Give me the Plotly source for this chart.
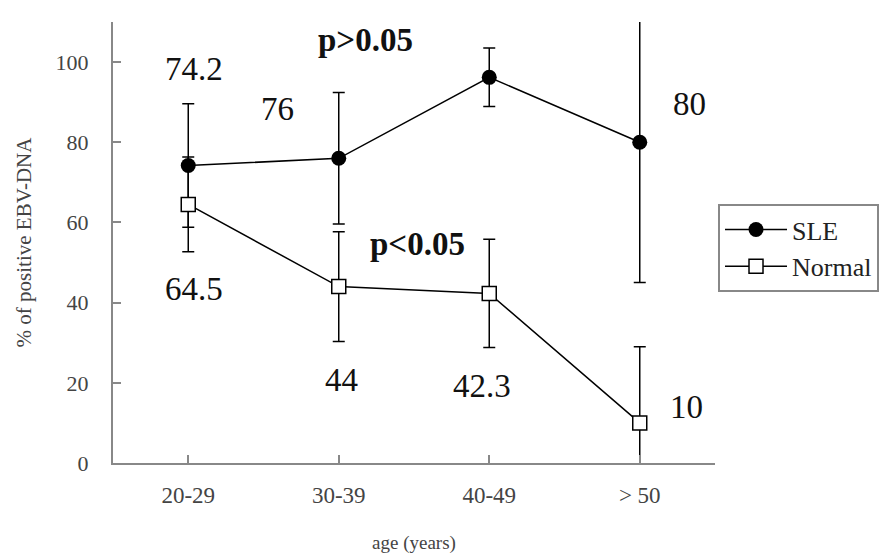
import plotly.graph_objects as go

# ---- data ----
categories = ["20-29", "30-39", "40-49", "> 50"]
sle_values = [74.2, 76.0, 96.2, 80.0]
sle_err = [15.4, 16.4, 7.3, 35.0]
normal_values = [64.5, 44.0, 42.3, 10.0]
normal_err = [11.8, 13.7, 13.5, 19.0]
y_ticks = [0, 20, 40, 60, 80, 100]

# label offsets (in category-index units / data units) relative to each point
sle_label_dx = [0.04, -0.41, 0.18, 0.33]
sle_label_dy = [24.0, 12.2, 15.0, 9.5]
normal_label_dx = [0.04, 0.02, -0.05, 0.31]
normal_label_dy = [-21.2, -23.2, -23.0, 4.0]
p_texts = ["p>0.05", "p<0.05"]
p_x = [1.18, 1.52]
p_y = [105.5, 54.6]

FONT = "Liberation Serif"
x_idx = list(range(len(categories)))

fig = go.Figure()
fig.add_trace(go.Scatter(
    x=x_idx, y=sle_values, name="SLE", mode="lines+markers",
    line=dict(color="black", width=1.5),
    marker=dict(symbol="circle", size=15, color="black"),
    error_y=dict(type="data", array=sle_err, visible=True,
                 color="black", thickness=1.5, width=6),
))
fig.add_trace(go.Scatter(
    x=x_idx, y=normal_values, name="Normal", mode="lines+markers",
    line=dict(color="black", width=1.5),
    marker=dict(symbol="square", size=14, color="white",
                line=dict(color="black", width=1.5)),
    error_y=dict(type="data", array=normal_err, visible=True,
                 color="black", thickness=1.5, width=6),
))

annotations = []
for i, v in enumerate(sle_values):
    annotations.append(dict(x=i + sle_label_dx[i], y=v + sle_label_dy[i],
                            text=f"{v:g}", showarrow=False,
                            font=dict(family=FONT, size=33, color="#111")))
for i, v in enumerate(normal_values):
    annotations.append(dict(x=i + normal_label_dx[i], y=v + normal_label_dy[i],
                            text=f"{v:g}", showarrow=False,
                            font=dict(family=FONT, size=33, color="#111")))
for t, px_, py_ in zip(p_texts, p_x, p_y):
    annotations.append(dict(x=px_, y=py_, text=f"<b>{t}</b>", showarrow=False,
                            font=dict(family=FONT, size=33, color="#111")))

# page body has an 8px margin, so the figure is sized/offset to compensate
fig.update_layout(
    width=885, height=547,
    margin=dict(l=105, r=178, t=14, b=92, autoexpand=False),
    paper_bgcolor="white", plot_bgcolor="white",
    font=dict(family=FONT, color="#444"),
    showlegend=True,
    legend=dict(x=1.005, y=0.587, xanchor="left", yanchor="top",
                bordercolor="#888", borderwidth=2, bgcolor="white",
                font=dict(family=FONT, size=26, color="#222"),
                itemwidth=62, itemsizing="trace", tracegroupgap=2),
    annotations=annotations,
)
fig.update_xaxes(
    tickmode="array", tickvals=x_idx, ticktext=categories,
    range=[-0.5, 3.5], showline=True, linecolor="#888", linewidth=2,
    ticks="inside", ticklen=8, tickcolor="#888", tickwidth=1.5,
    showgrid=False, zeroline=False, automargin=False,
    tickfont=dict(family=FONT, size=23, color="#444"),
    ticklabelstandoff=10,
    title=dict(text="age (years)", font=dict(family=FONT, size=19, color="#444"),
               standoff=29),
)
fig.update_yaxes(
    range=[0, 110], tickvals=y_ticks, showline=True, linecolor="#888", linewidth=2,
    ticks="inside", ticklen=8, tickcolor="#888", tickwidth=1.5,
    showgrid=False, zeroline=False, automargin=False,
    tickfont=dict(family=FONT, size=22, color="#444"),
    ticklabelstandoff=18,
    title=dict(text="% of positive EBV-DNA", font=dict(family=FONT, size=21, color="#444"),
               standoff=18),
)

fig.write_html("out.html")
